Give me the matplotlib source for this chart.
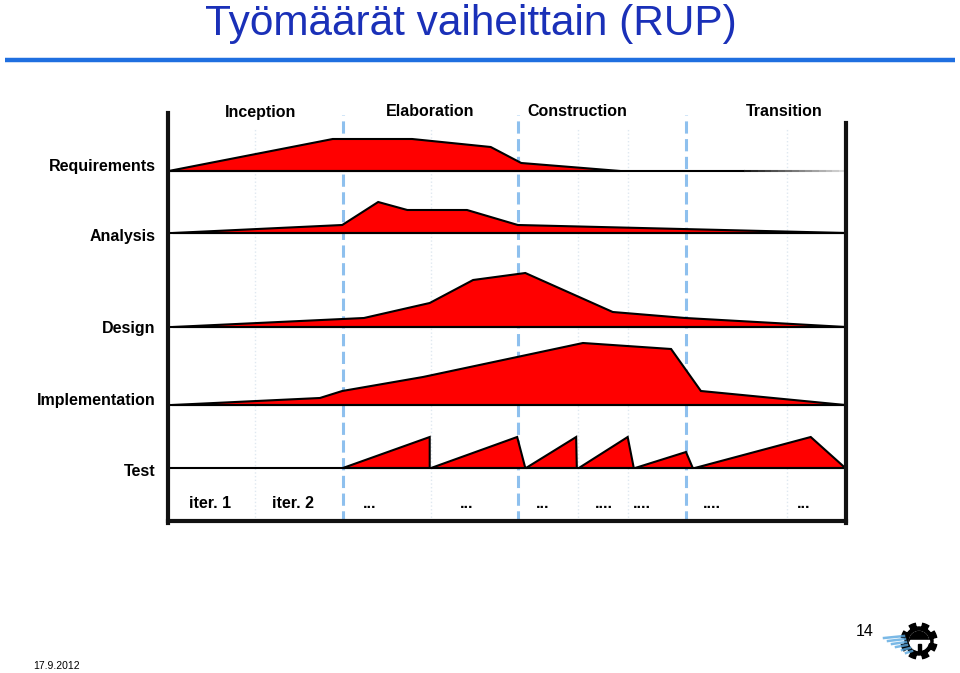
import numpy as np
import matplotlib
matplotlib.use('Agg')
import matplotlib.pyplot as plt
from matplotlib.patches import Polygon, Circle, Wedge, Rectangle
from matplotlib.collections import LineCollection

plt.rcParams['font.family'] = ['Liberation Sans', 'DejaVu Sans']

# Vaiheet ja iteraatiot (x = prosenttia projektin kestosta)
phases = ['Inception', 'Elaboration', 'Construction', 'Transition']
phase_label_x = [13.6, 38.6, 60.3, 90.9]
phase_bounds = [25.8, 51.6, 76.4]
iter_bounds = [12.8, 38.8, 60.5, 67.8, 91.3]
iter_labels = ['iter. 1', 'iter. 2', '...', '...', '...', '....', '....', '....', '...']
iter_label_x = [6.2, 18.4, 29.8, 44.0, 55.2, 64.3, 69.9, 80.2, 93.7]

# Tyonkulut ja tyomaarat (korkeus)
disciplines = ['Requirements', 'Analysis', 'Design', 'Implementation', 'Test']
req_x = [0.1, 24.3, 36.0, 47.6, 52.1, 66.7]
req_h = [0, 32, 32, 24, 8, 0]
ana_x = [0.7, 25.7, 31.0, 35.3, 44.1, 51.6, 100]
ana_h = [0, 8, 31, 23, 23, 8, 0]
des_x = [0.7, 28.9, 38.6, 45.0, 52.7, 65.6, 76.3, 100]
des_h = [0, 9, 24, 47, 54, 15, 9, 0]
imp_x = [0.6, 22.4, 25.7, 37.6, 51.5, 61.2, 74.2, 78.6, 99.9]
imp_h = [0, 7, 14, 28, 48, 62, 56, 14, 0]
# testi: (alku, huippu, loppu, korkeus)
test_start = [25.8, 38.8, 52.8, 60.6, 68.9, 77.7]
test_peak = [38.6, 51.5, 60.2, 67.8, 76.4, 94.8]
test_end = [38.6, 52.7, 60.3, 68.7, 77.4, 99.9]
test_h = [31, 31, 31, 31, 16, 31]

fig = plt.figure(figsize=(9.6, 6.73), dpi=100)

# taustakerros pikselikoordinaateissa
bg = fig.add_axes([0, 0, 1, 1])
bg.set_xlim(0, 960)
bg.set_ylim(673, 0)
bg.axis('off')
bg.text(471, 35, 'Työmäärät vaiheittain (RUP)', fontsize=30.5, color='#1a30b8',
        ha='center', va='baseline')
bg.plot([5, 955], [60, 60], color='#1f6fe0', lw=3.2, solid_capstyle='butt')
bg.text(57, 666, '17.9.2012', fontsize=7.5, ha='center', va='center')
bg.text(865, 632, '14', fontsize=11.5, ha='center', va='center')

# logo (hammaspyora)
cx, cy = 919, 641
for dy, x0, x1 in [(-3, 884, 904), (0, 888, 905), (3, 892, 906), (6, 896, 907),
                   (9, 902, 910), (12, 906, 912)]:
    bg.plot([x0, x1], [cy + dy, cy + dy - 2], color='#5aa8e0', lw=1.8, alpha=0.8)
t = np.linspace(0, 2 * np.pi, 480, endpoint=False)
r = np.where(np.cos(8 * (t + np.pi / 8)) > 0.1, 18, 14)
bg.add_patch(Polygon(np.column_stack([cx + r * np.cos(t), cy + r * np.sin(t)]),
                     closed=True, color='black'))
bg.add_patch(Circle((cx, cy), 9.5, color='white'))
bg.add_patch(Wedge((cx, cy), 9.5, 180, 360, color='black'))
bg.add_patch(Rectangle((cx - 9.5, cy - 1.3), 19, 2.6, color='white'))
bg.add_patch(Rectangle((cx - 1.5, cy + 3), 3, 8, color='black'))

# kaavio
ax = fig.add_axes([168 / 960, (673 - 523) / 673, (846 - 168) / 960, (523 - 95) / 673])
ax.set_xlim(0, 100)
ax.set_ylim(0, 428)
ax.axis('off')

for x in iter_bounds:
    ax.plot([x, x], [2, 395], color='#dfe8f0', lw=1, ls=':', zorder=1)
for x in phase_bounds:
    ax.plot([x, x], [0, 408], color='#8ec0ee', lw=2.2, dashes=(4, 1.8), zorder=1)

baselines = [352, 290, 196, 118, 55]
profiles = [(req_x, req_h), (ana_x, ana_h), (des_x, des_h), (imp_x, imp_h)]
for (xs, hs), y0 in zip(profiles, baselines[:4]):
    pts = [(x, y0 + h) for x, h in zip(xs, hs)]
    ax.add_patch(Polygon(pts, closed=True, facecolor='#ff0000', edgecolor='black',
                         lw=1.5, joinstyle='miter', zorder=3))

y0 = baselines[4]
for s, p, e, h in zip(test_start, test_peak, test_end, test_h):
    ax.add_patch(Polygon([(s, y0), (p, y0 + h), (e, y0)], closed=True,
                         facecolor='#ff0000', edgecolor='black', lw=1.5,
                         joinstyle='miter', zorder=3))

# pohjaviivat
ax.plot([0, 85], [baselines[0]] * 2, color='black', lw=1.5, zorder=4)
xs = np.linspace(85, 100, 16)
segs = [[(xs[i], baselines[0]), (xs[i + 1], baselines[0])] for i in range(15)]
cols = [(g, g, g) for g in np.linspace(0.1, 0.85, 15)]
ax.add_collection(LineCollection(segs, colors=cols, lw=1.5, zorder=4))
for y in baselines[1:]:
    ax.plot([0.5, 100], [y, y], color='black', lw=1.5, zorder=4)

# reunat
ax.plot([0, 0], [0, 410], color='#111111', lw=3, clip_on=False, zorder=5)
ax.plot([100, 100], [0, 400], color='#111111', lw=3, clip_on=False, zorder=5)
ax.plot([0, 100], [2, 2], color='#111111', lw=3, clip_on=False, zorder=5)

label_y = [357, 287, 194, 123, 52]
for name, y in zip(disciplines, label_y):
    ax.text(-1.8, y, name, fontsize=11.5, fontweight='bold', ha='right', va='center',
            clip_on=False)
for name, x in zip(phases, phase_label_x):
    ax.text(x, 411, name, fontsize=11.5, fontweight='bold', ha='center', va='center',
            clip_on=False)
for name, x in zip(iter_labels, iter_label_x):
    ax.text(x, 19, name, fontsize=11.5, fontweight='bold', ha='center', va='center')

fig.savefig('out.png', dpi=100)
